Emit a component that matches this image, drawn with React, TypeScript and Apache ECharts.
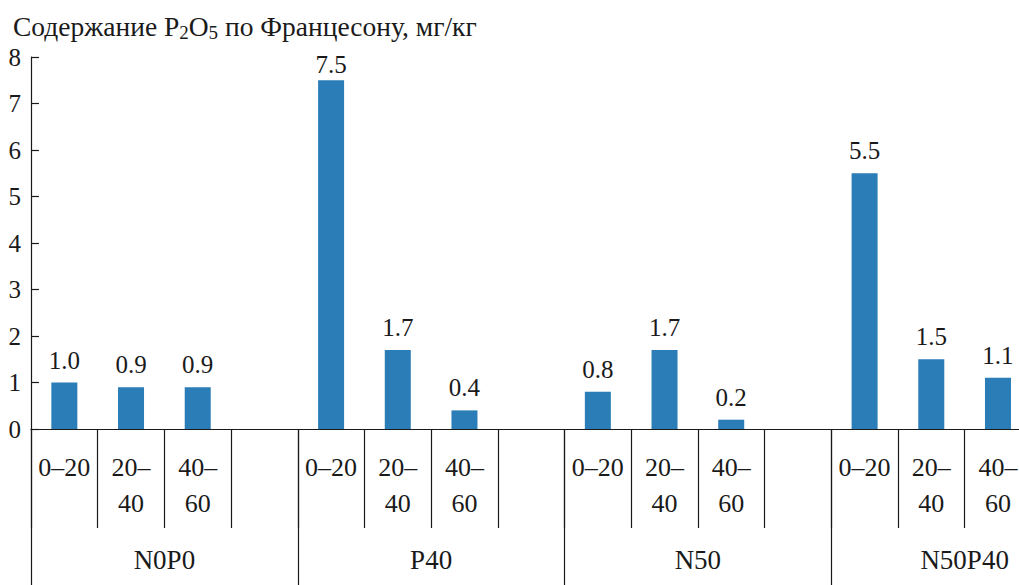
import React, { useEffect, useRef } from "react";
import * as echarts from "echarts";

const depths = ["0–20", "20–\n40", "40–\n60", ""];
const groups = ["N0P0", "P40", "N50", "N50P40"];
const values: (number | null)[] = [
  1.0, 0.9, 0.9, null,
  7.5, 1.7, 0.4, null,
  0.8, 1.7, 0.2, null,
  5.5, 1.5, 1.1, null,
];
const yTicks = [0, 1, 2, 3, 4, 5, 6, 7, 8];

const FONT = "Liberation Serif";
const INK = "#1a1a1a";

export default function App() {
  const ref = useRef<HTMLDivElement>(null);
  useEffect(() => {
    if (!ref.current) return;
    const chart = echarts.init(ref.current, undefined, { renderer: "svg" });
    const categories: string[] = [];
    groups.forEach(() => depths.forEach((d) => categories.push(d)));
    const yMax = yTicks[yTicks.length - 1];
    const seriesData = values.map((v) =>
      v != null && v > yMax - 1 ? { value: v, label: { distance: 3 } } : v
    );
    chart.setOption({
      animation: false,
      backgroundColor: "#ffffff",
      title: {
        text: "{t|Содержание P}{s|2}{t|O}{s|5}{t| по Францесону, мг/кг}",
        left: 8,
        top: 5,
        textStyle: {
          fontWeight: "normal",
          fontFamily: FONT,
          rich: {
            t: { fontFamily: FONT, fontWeight: "normal", fontSize: 27.5, lineHeight: 32, color: INK },
            s: { fontFamily: FONT, fontWeight: "normal", fontSize: 19, lineHeight: 18, color: INK, verticalAlign: "bottom" },
          },
        },
      },
      grid: { left: 31, right: 0, top: 57, bottom: 156, containLabel: false },
      xAxis: [
        {
          type: "category",
          data: categories,
          position: "bottom",
          axisLine: { show: true, lineStyle: { color: INK, width: 1.2 } },
          axisTick: { show: true, interval: 0, length: 99, lineStyle: { color: INK, width: 1.2 } },
          axisLabel: {
            interval: 0,
            margin: 20,
            fontFamily: FONT,
            fontSize: 26,
            lineHeight: 36,
            color: INK,
          },
        },
        {
          type: "category",
          data: groups,
          position: "bottom",
          axisLine: { show: false },
          axisTick: { show: true, interval: 0, length: 160, lineStyle: { color: INK, width: 1.2 } },
          axisLabel: {
            interval: 0,
            margin: 116,
            fontFamily: FONT,
            fontSize: 27,
            lineHeight: 30,
            color: INK,
          },
        },
      ],
      yAxis: {
        type: "value",
        min: yTicks[0],
        max: yMax,
        interval: 1,
        axisLine: { show: true, lineStyle: { color: INK, width: 1.2 } },
        axisTick: { show: true, inside: true, length: 8, lineStyle: { color: INK, width: 1.2 } },
        splitLine: { show: false },
        axisLabel: { margin: 10, fontFamily: FONT, fontSize: 25, color: INK },
      },
      series: [
        {
          type: "bar",
          xAxisIndex: 0,
          data: seriesData,
          barWidth: 26,
          itemStyle: { color: "#2a7db7" },
          label: {
            show: true,
            position: "top",
            distance: 10,
            fontFamily: FONT,
            fontSize: 25,
            color: INK,
            formatter: (p: any) => (p.value == null ? "" : Number(p.value).toFixed(1)),
          },
        },
      ],
    });
    return () => chart.dispose();
  }, []);
  return (
    <div style={{ position: "absolute", left: 0, top: 0, width: 1019, height: 585, overflow: "hidden" }}>
      <div ref={ref} style={{ width: 1098, height: 585 }} />
    </div>
  );
}
